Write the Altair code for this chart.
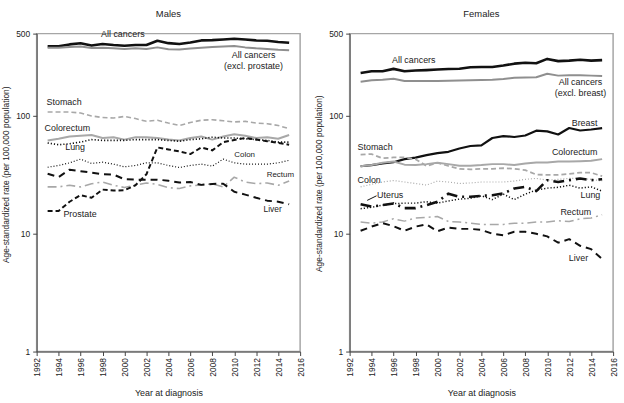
import altair as alt
import pandas as pd

FONT = "Liberation Sans"

years = list(range(1993, 2016))

# ---- Males: age-standardized incidence per 100,000 ----
male_all = [391, 391, 405, 414, 397, 408, 400, 395, 400, 400, 435, 415, 408, 420, 438, 440, 446, 453, 446, 438, 435, 425, 418]
male_excl_prostate = [380, 380, 385, 388, 378, 380, 375, 370, 375, 370, 382, 368, 366, 373, 380, 385, 388, 392, 382, 375, 370, 365, 362]
male_stomach = [108, 108, 108, 106, 100, 97, 96, 99, 95, 90, 92, 87, 83, 88, 92, 93, 91, 89, 90, 87, 86, 83, 78]
male_colorectum = [62, 64, 67, 68, 69, 65, 66, 63, 66, 66, 65, 63, 62, 65, 67, 63, 67, 70, 68, 65, 66, 64, 69]
male_lung = [59, 57, 58, 60, 63, 62, 62, 62, 63, 63, 63, 62, 61, 63, 64, 66, 65, 65, 64, 63, 62, 60, 60]
male_colon = [36.7, 38, 40, 43, 39.5, 40.5, 39, 37, 38, 40, 40, 38, 36.5, 38, 39, 37.5, 43, 40, 39, 39, 39, 40, 42]
male_liver = [32.3, 30.3, 35, 34, 33, 32, 31.8, 29, 28.8, 28.8, 28.8, 28.2, 27.2, 27.5, 26, 26.5, 26.6, 22.7, 21.5, 20.2, 19.1, 18.7, 17.8]
male_prostate = [15.6, 15.6, 18.7, 21.3, 20.2, 23.7, 23.3, 23.4, 25.8, 32, 54, 52, 50, 47.5, 54, 51, 60, 62.5, 65, 63, 61, 59, 57]
male_rectum = [25, 25, 25.8, 25, 26.6, 27.5, 25.8, 24.7, 25.8, 27, 26.2, 24.6, 24.2, 25.5, 26, 26.5, 25, 30.2, 27.5, 26.6, 27, 25.8, 28]

# ---- Females ----
female_all = [232, 240, 240, 251, 240, 243, 245, 248, 250, 252, 259, 260, 260, 268, 278, 283, 280, 305, 292, 295, 300, 295, 298]
female_excl_breast = [195, 201, 203, 207, 198, 198, 198, 198, 199, 200, 201, 202, 203, 206, 211, 212, 213, 228, 220, 222, 222, 220, 218]
female_breast = [37.4, 38.3, 39.5, 40.5, 43, 44.3, 46.5, 48.3, 49.6, 53, 55.6, 56.2, 65, 67.5, 66.3, 68.3, 75, 74, 69.6, 79, 75.3, 76.8, 78.8]
female_stomach = [46.9, 47.5, 43.7, 44.5, 44.5, 43, 37.6, 40, 37.6, 35.6, 35.2, 35.6, 35.6, 36, 35.6, 34.7, 31.8, 31.6, 31.6, 32.3, 33, 33, 30.8]
female_colorectum = [37.4, 38.3, 40, 41, 38.6, 38.3, 39, 40, 39, 37.8, 37.8, 38.3, 39, 39, 38.3, 39.5, 40.3, 40.3, 41, 41, 41.3, 41.6, 43]
female_colon = [25, 26.3, 27.5, 28.3, 27.5, 26.7, 25.9, 28, 27.5, 26.7, 27, 27.5, 27.5, 27.5, 28, 29, 29.5, 28.5, 29, 29.5, 29.5, 29, 28]
female_uterus = [17.8, 17, 17.5, 18.1, 16.5, 16.5, 17.5, 18.7, 21.9, 20.6, 20.6, 21, 21.2, 22, 24.2, 25, 23, 28.5, 27.5, 28.5, 29.5, 28.5, 29]
female_lung = [16.3, 16.8, 17.5, 18, 18.2, 18.2, 18.7, 18.2, 19, 19.7, 20, 21, 19.5, 21.7, 19.5, 21.7, 23.5, 24.4, 24.8, 25.8, 24.4, 25, 23]
female_rectum = [12.6, 12.3, 12.6, 13.4, 12.8, 13.6, 13.8, 14, 12.7, 12.6, 12.3, 12, 12, 12, 12.3, 12.3, 12.6, 12.6, 12.9, 12.7, 13.4, 13.6, 14.5]
female_liver = [10.6, 11.5, 12.3, 11.6, 10.6, 11.5, 12, 10.5, 11.3, 11, 11, 10.8, 10, 9.7, 10.4, 10.4, 10, 9.5, 8.4, 9, 7.9, 7.4, 6.1]

x_ticks = list(range(1992, 2017, 2))
y_ticks = [1, 10, 100, 500]

BLACK = "#111111"
GRAY = "#8f8f8f"
LIGHT = "#a8a8a8"

# series name -> (values, colour, dash, width)
male_series = [
    ("All cancers", male_all, BLACK, [], 2.6),
    ("All cancers (excl. prostate)", male_excl_prostate, GRAY, [], 2.0),
    ("Stomach", male_stomach, LIGHT, [5, 3], 1.6),
    ("Colorectum", male_colorectum, LIGHT, [], 2.0),
    ("Lung", male_lung, BLACK, [1.2, 2], 1.6),
    ("Colon", male_colon, BLACK, [1, 2], 1.2),
    ("Rectum", male_rectum, LIGHT, [9, 4, 2, 4], 1.6),
    ("Liver", male_liver, BLACK, [7, 5], 2.0),
    ("Prostate", male_prostate, BLACK, [5, 3], 2.0),
]

female_series = [
    ("All cancers", female_all, BLACK, [], 2.6),
    ("All cancers (excl. breast)", female_excl_breast, GRAY, [], 2.0),
    ("Breast", female_breast, BLACK, [], 2.2),
    ("Stomach", female_stomach, LIGHT, [5, 3], 1.8),
    ("Colorectum", female_colorectum, LIGHT, [], 2.0),
    ("Colon", female_colon, LIGHT, [1, 2], 1.2),
    ("Rectum", female_rectum, LIGHT, [9, 4, 2, 4], 1.5),
    ("Lung", female_lung, BLACK, [1.2, 2], 1.5),
    ("Uterus", female_uterus, BLACK, [11, 5, 2, 5], 2.6),
    ("Liver", female_liver, BLACK, [7, 5], 2.0),
]

# in-plot series labels: (text, year, rate, align, font size)
male_labels = [
    ("All cancers", 1999.85, 500, "center", 9),
    ("All cancers", 2011.76, 327, "center", 9),
    ("(excl. prostate)", 2011.76, 264, "center", 9),
    ("Stomach", 1992.9, 131, "left", 9),
    ("Colorectum", 1992.72, 79.6, "left", 9),
    ("Lung", 1994.6, 54, "left", 9),
    ("Colon", 2010.95, 46.3, "center", 8),
    ("Rectum", 2014.2, 31.4, "center", 8),
    ("Prostate", 1994.44, 14.8, "left", 9),
    ("Liver", 2013.5, 16.3, "center", 8.5),
]

female_labels = [
    ("All cancers", 1997.84, 297, "center", 9),
    ("All cancers", 2013.03, 194, "center", 9),
    ("(excl. breast)", 2013.03, 157, "center", 9),
    ("Breast", 2013.4, 87.7, "center", 9),
    ("Stomach", 1992.72, 54, "left", 9),
    ("Colorectum", 2012.5, 49, "center", 9),
    ("Colon", 1992.72, 28.5, "left", 9),
    ("Uterus", 1994.5, 21.3, "left", 9),
    ("Lung", 2013.93, 21.3, "center", 9),
    ("Rectum", 2012.6, 15.3, "center", 9),
    ("Liver", 2012.85, 6.17, "center", 9),
]

# leader from the Uterus label to its line
uterus_leader = pd.DataFrame({"year": [1993.6, 1994.45], "rate": [19.2, 21.0]})

Y_TITLE = "Age-standardized rate (per 100,000 population)"


def encodings(title_y):
    x = alt.X(
        "year:Q",
        scale=alt.Scale(domain=[1992, 2016], nice=False, zero=False),
        axis=alt.Axis(
            values=x_ticks, format="d", labelAngle=270, grid=False,
            title="Year at diagnosis", tickSize=4, labelFontSize=8.5,
            labelPadding=2, titleFontSize=9, titleFontWeight="normal",
            titlePadding=12, domainColor="#444", tickColor="#444",
            labelColor="#222", titleColor="#222", labelFont=FONT, titleFont=FONT,
        ),
    )
    y = alt.Y(
        "rate:Q",
        scale=alt.Scale(type="log", domain=[1, 500], nice=False),
        axis=alt.Axis(
            values=y_ticks, format="d", grid=False, title=Y_TITLE,
            tickSize=4, labelFontSize=8.5, labelPadding=3,
            titleFontSize=8.5, titleFontWeight="normal", titleAngle=270,
            titleAlign="center", titleBaseline="middle", titleX=-31, titleY=title_y,
            domainColor="#444", tickColor="#444", labelColor="#222",
            titleColor="#222", labelFont=FONT, titleFont=FONT,
        ),
    )
    return x, y


def panel(title, series, labels, title_y, extra=None):
    x, y = encodings(title_y)
    layers = []
    for name, vals, color, dash, width in series:
        df = pd.DataFrame({"year": years, "rate": vals, "series": name})
        props = dict(color=color, strokeWidth=width, strokeJoin="round")
        if dash:
            props["strokeDash"] = dash
        layers.append(alt.Chart(df).mark_line(**props).encode(x=x, y=y))
    if extra is not None:
        layers.append(extra.encode(x=x, y=y))
    for text, yr, rate, align, size in labels:
        df = pd.DataFrame({"year": [yr], "rate": [rate], "label": [text]})
        layers.append(
            alt.Chart(df)
            .mark_text(align=align, baseline="middle", fontSize=size, font=FONT, color="#222")
            .encode(x=x, y=y, text="label:N")
        )
    return alt.layer(*layers).properties(
        width=266,
        height=321,
        title=alt.TitleParams(title, fontSize=9.5, fontWeight="normal", font=FONT,
                              color="#222", offset=11, anchor="middle"),
    )


leader = alt.Chart(uterus_leader).mark_line(color=BLACK, strokeWidth=1)

males = panel("Males", male_series, male_labels, 142)
females = panel("Females", female_series, female_labels, 151, extra=leader)

chart = (
    alt.hconcat(males, females, spacing=50, bounds="flush")
    .properties(padding={"left": 1, "top": 6, "right": 5, "bottom": 4}, background="white")
    .configure_view(stroke="#a6a6a6", strokeWidth=1.5)
)

chart.save("out.html", embed_options={"renderer": "svg", "actions": False})
